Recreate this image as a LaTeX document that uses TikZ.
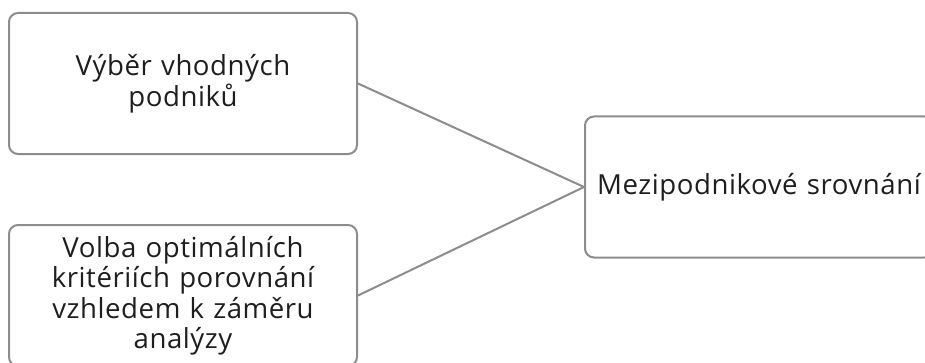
\documentclass[tikz,border=0pt]{standalone}
\usepackage{fontspec}
\setmainfont[LetterSpace=2]{Open Sans}
\definecolor{boxline}{HTML}{8C8C8C}
\definecolor{txt}{HTML}{1E1E1E}
\begin{document}
\begin{tikzpicture}[x=1pt,y=1pt,
  card/.style={draw=boxline, line width=2pt, rounded corners=9pt, minimum width=348pt, minimum height=141pt,
    align=center, text width=346pt, inner sep=0pt, text=txt,
    font=\fontsize{27.6pt}{30.5pt}\selectfont},
  link/.style={draw=boxline, line width=2pt}]
\useasboundingbox (0,0) rectangle (925,362);
\clip (0,0) rectangle (925,362);
\node[card] (a) at (183,278.5) {Výběr vhodných\\podniků};
\node[card] (b) at (183,66.5) {Volba optimálních\\kritériích porovnání\\vzhledem k záměru\\analýzy};
\node[card] (c) at (759,175) {Mezipodnikové srovnání};
\draw[link] (a.east) -- (c.west);
\draw[link] (b.east) -- (c.west);
\end{tikzpicture}
\end{document}
